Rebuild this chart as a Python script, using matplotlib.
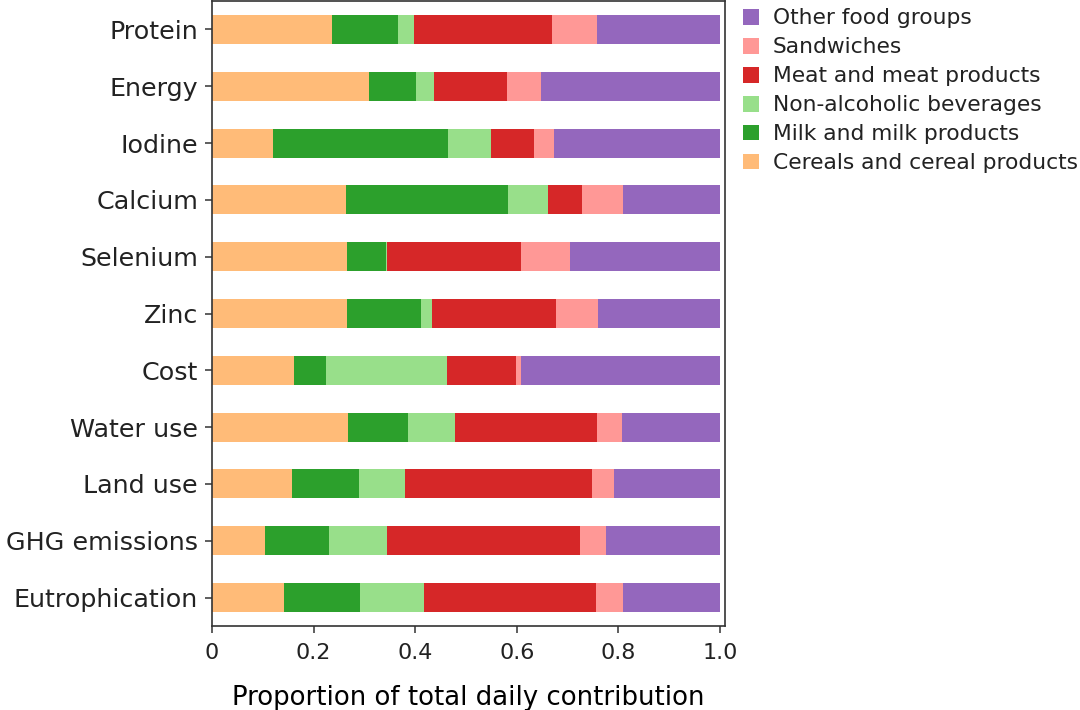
import matplotlib
matplotlib.use("Agg")
import matplotlib.pyplot as plt
import numpy as np

plt.rcParams['font.family'] = ['DejaVu Sans']

categories = ["Protein", "Energy", "Iodine", "Calcium", "Selenium", "Zinc",
              "Cost", "Water use", "Land use", "GHG emissions", "Eutrophication"]

groups = ["Cereals and cereal products", "Milk and milk products",
          "Non-alcoholic beverages", "Meat and meat products",
          "Sandwiches", "Other food groups"]

cereals = [0.236, 0.309, 0.121, 0.263, 0.265, 0.265, 0.161, 0.267, 0.158, 0.105, 0.141]
milk = [0.131, 0.092, 0.343, 0.320, 0.077, 0.146, 0.064, 0.118, 0.131, 0.126, 0.150]
beverages = [0.030, 0.036, 0.085, 0.078, 0.003, 0.022, 0.237, 0.094, 0.090, 0.114, 0.126]
meat = [0.272, 0.143, 0.084, 0.067, 0.263, 0.244, 0.137, 0.279, 0.369, 0.379, 0.339]
sandwiches = [0.089, 0.067, 0.040, 0.081, 0.097, 0.082, 0.009, 0.049, 0.043, 0.052, 0.054]
other = [0.242, 0.353, 0.327, 0.191, 0.295, 0.241, 0.392, 0.193, 0.209, 0.224, 0.190]

colors = ["#ffbb78", "#2ca02c", "#98df8a", "#d62728", "#ff9896", "#9467bd"]
xticks = [0, 0.2, 0.4, 0.6, 0.8, 1.0]
xticklabels = ["0", "0.2", "0.4", "0.6", "0.8", "1.0"]

series = [cereals, milk, beverages, meat, sandwiches, other]

fig = plt.figure(figsize=(10.8, 7.1), dpi=100)
ax = fig.add_axes([212/1080, 1 - 626/710, (725-212)/1080, (626-1)/710])

y = np.arange(len(categories))
left = np.zeros(len(categories))
handles = []
for vals, col, name in zip(series, colors, groups):
    vals = np.array(vals)
    b = ax.barh(y, vals, left=left, height=0.51, color=col, linewidth=0, label=name)
    handles.append(b)
    left += vals

ax.set_ylim(len(categories) - 0.5, -0.5)
ax.set_xlim(0, 1.01)
ax.set_yticks(y)
ax.set_yticklabels(categories, fontsize=18.3)
ax.set_xticks(xticks)
ax.set_xticklabels(xticklabels, fontsize=16)
ax.set_xlabel("Proportion of total daily contribution", fontsize=18.7, labelpad=16)

for s in ax.spines.values():
    s.set_color("#333333")
    s.set_linewidth(1.2)
ax.tick_params(axis='both', length=5, width=1.1, color="#333333", labelcolor="#222222")
ax.tick_params(axis='y', pad=5)
ax.tick_params(axis='x', pad=7)

leg = fig.legend(handles[::-1], groups[::-1], loc="upper left",
                 bbox_to_anchor=(743/1080, 1 - 8.5/710), frameon=False,
                 fontsize=15.7, handlelength=0.73, handleheight=0.73,
                 handletextpad=0.64, labelspacing=0.41, borderpad=0, borderaxespad=0)
for t in leg.get_texts():
    t.set_color("#222222")

fig.savefig("out.png", dpi=100)
